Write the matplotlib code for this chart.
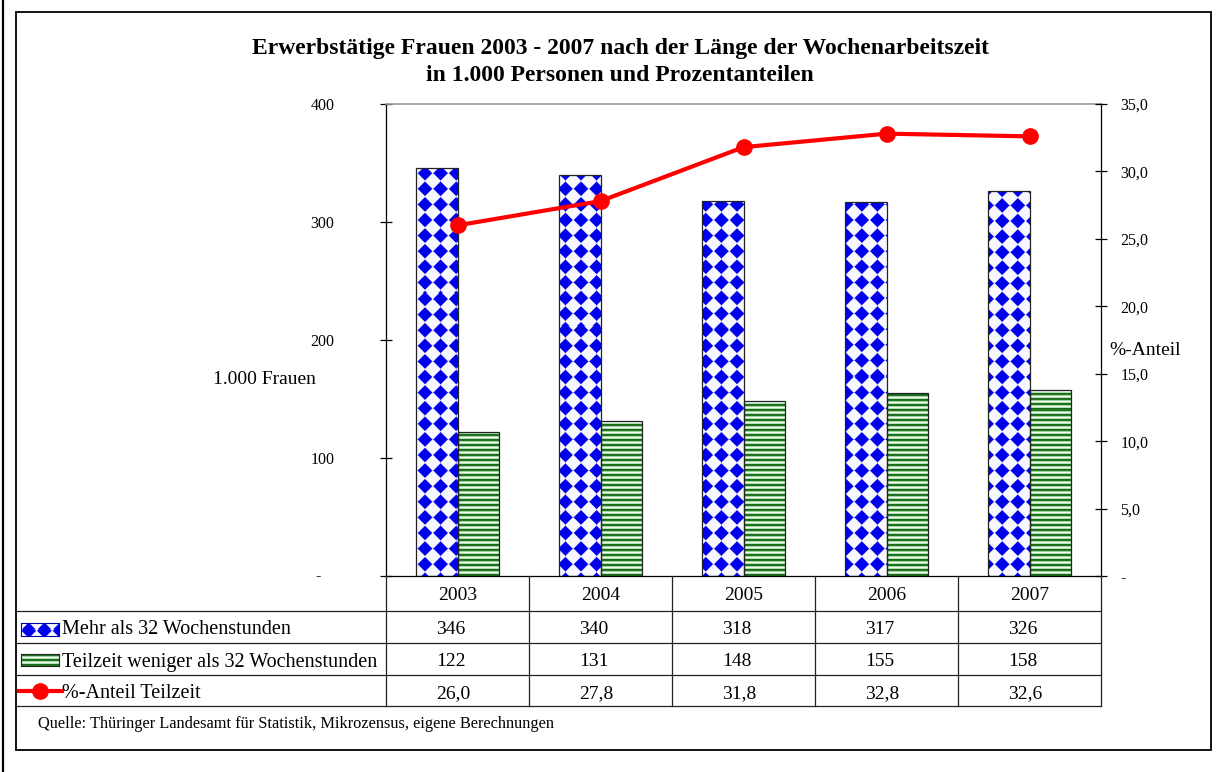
import numpy as np
import matplotlib
matplotlib.use('Agg')
import matplotlib.pyplot as plt
from matplotlib.lines import Line2D
from matplotlib.patches import Rectangle
from matplotlib.transforms import blended_transform_factory

# data
years = ['2003', '2004', '2005', '2006', '2007']
full_time = [346, 340, 318, 317, 326]
part_time = [122, 131, 148, 155, 158]
part_share = [26.0, 27.8, 31.8, 32.8, 32.6]
share_labels = ['26,0', '27,8', '31,8', '32,8', '32,6']
series_names = ['Mehr als 32 Wochenstunden',
                'Teilzeit weniger als 32 Wochenstunden',
                '%-Anteil Teilzeit']
left_ticks = [100, 200, 300, 400]
right_ticks = [0, 5, 10, 15, 20, 25, 30, 35]

W, H, DPI = 1222, 772, 100
plt.rcParams['font.family'] = ['Liberation Serif', 'DejaVu Serif']


def fx(px):
    return px / W


def fy(py):
    return 1 - py / H


def diamonds(h, w, period=15.6):
    yy, xx = np.mgrid[0:h, 0:w] + 0.5
    dx = np.abs((xx % period) - period / 2)
    dy = np.abs((yy % period) - period / 2)
    d = dx + dy - period * 0.47
    a = np.clip(0.5 - d / 1.5, 0, 1)[..., None]
    bg = np.array([0.97, 0.97, 1.0])
    fg = np.array([0.0, 0.0, 0.92])
    return a * fg + (1 - a) * bg


def stripes(h, w):
    rows = np.array([[0.10, 0.42, 0.10], [0.14, 0.46, 0.14],
                     [0.62, 0.84, 0.62], [0.94, 0.99, 0.94],
                     [0.70, 0.88, 0.70]])
    idx = np.arange(h) % len(rows)
    return np.repeat(rows[idx][:, None, :], w, axis=1)


fig = plt.figure(figsize=(W / DPI, H / DPI), dpi=DPI)

# page line and chart frame
fig.add_artist(Line2D([fx(3), fx(3)], [0, 1], color='black', lw=1.6))
fig.add_artist(Rectangle((fx(16), fy(750)), fx(1211) - fx(16), fy(12) - fy(750),
                         fill=False, edgecolor='black', lw=1.3))

# main axes
ax_l, ax_r, ax_t, ax_b = 386, 1101, 104, 576
ax = fig.add_axes([fx(ax_l), fy(ax_b), fx(ax_r - ax_l), fy(ax_t) - fy(ax_b)])
x = np.arange(len(years))
bw = 0.29
b1 = ax.bar(x - bw / 2, full_time, bw, facecolor='none', edgecolor='#222222', lw=0.9, zorder=3)
b2 = ax.bar(x + bw / 2, part_time, bw, facecolor='none', edgecolor='#222222', lw=0.9, zorder=3)

ph, pw = ax_b - ax_t, ax_r - ax_l
for bars, tex in [(b1, diamonds(ph, pw)), (b2, stripes(ph, pw))]:
    for bar in bars:
        im = ax.imshow(tex, extent=(-0.5, len(years) - 0.5, 0, 400), aspect='auto',
                       interpolation='nearest', origin='upper', zorder=2)
        im.set_clip_path(bar)

ax.set_xlim(-0.5, len(years) - 0.5)
ax.set_ylim(0, 400)
ax.set_xticks([])
ax.set_yticks([0] + left_ticks)
ax.set_yticklabels([''] + [str(t) for t in left_ticks])
ax.tick_params(axis='y', direction='inout', length=8, width=0.9, pad=33, labelsize=11.5)
ax.spines['right'].set_visible(False)
ax.spines['top'].set_color('#9a9a9a')
ax.spines['top'].set_linewidth(1.2)
for s in ['left', 'bottom']:
    ax.spines[s].set_linewidth(0.9)
trans = blended_transform_factory(fig.transFigure, ax.transData)
ax.text(fx(321), 0, '-', transform=trans, ha='right', va='center', fontsize=11.5)

ax2 = ax.twinx()
ax2.set_ylim(0, 35)
ax2.plot(x, part_share, color='red', lw=3, marker='o', ms=11, zorder=5)
ax2.set_yticks(right_ticks)
ax2.set_yticklabels(['-'] + ['%d,0' % t for t in right_ticks[1:]])
ax2.tick_params(axis='y', direction='inout', length=8, width=0.9, pad=10, labelsize=11.5)
for s in ['left', 'top', 'bottom']:
    ax2.spines[s].set_visible(False)
ax2.spines['right'].set_linewidth(0.9)

# axis titles and chart title
fig.text(fx(264), fy(379), '1.000 Frauen', fontsize=14, ha='center', va='center')
fig.text(fx(1145), fy(350), '%-Anteil', fontsize=14, ha='center', va='center')
fig.text(fx(620), fy(62), 'Erwerbstätige Frauen 2003 - 2007 nach der Länge der Wochenarbeitszeit\n'
         'in 1.000 Personen und Prozentanteilen', fontsize=17, fontweight='bold',
         ha='center', va='center', linespacing=1.38)

# data table under the chart
rows_y = [576, 611, 643, 675, 706]
col_w = (ax_r - ax_l) / len(years)
col_x = [ax_l + i * col_w for i in range(len(years) + 1)]
for y in rows_y[1:]:
    fig.add_artist(Line2D([fx(16), fx(col_x[-1])], [fy(y), fy(y)], color='#222222', lw=0.9))
for cx in col_x:
    fig.add_artist(Line2D([fx(cx), fx(cx)], [fy(rows_y[0]), fy(rows_y[-1])], color='#222222', lw=0.9))

for i, v in enumerate(years):
    fig.text(fx(col_x[i] + col_w / 2), fy((rows_y[0] + rows_y[1]) / 2 + 2), v,
             fontsize=14, ha='center', va='center')
row_vals = [[str(v) for v in full_time], [str(v) for v in part_time], share_labels]
for r, vals in enumerate(row_vals):
    yc = (rows_y[r + 1] + rows_y[r + 2]) / 2 + 3
    for i, v in enumerate(vals):
        fig.text(fx(col_x[i] + 50), fy(yc), v, fontsize=14, ha='left', va='center')

# legend keys in table
for r, name in enumerate(series_names):
    yc = (rows_y[r + 1] + rows_y[r + 2]) / 2 + 3
    fig.text(fx(62), fy(yc), name, fontsize=14.5, ha='left', va='center')

k1 = fig.add_axes([fx(21), fy(636), fx(38), fy(623) - fy(636)])
k1.imshow(diamonds(13, 38), aspect='auto', interpolation='nearest')
k2 = fig.add_axes([fx(21), fy(666), fx(38), fy(654) - fy(666)])
k2.imshow(stripes(12, 38), aspect='auto', interpolation='nearest')
for k, ec in [(k1, '#0000aa'), (k2, '#222222')]:
    k.set_xticks([])
    k.set_yticks([])
    for s in k.spines.values():
        s.set_color(ec)
        s.set_linewidth(0.8)
yc = (rows_y[3] + rows_y[4]) / 2
fig.add_artist(Line2D([fx(19), fx(62)], [fy(yc), fy(yc)], color='red', lw=3))
fig.add_artist(Line2D([fx(40)], [fy(yc)], color='red', marker='o', ms=11))

fig.text(fx(38), fy(724), 'Quelle: Thüringer Landesamt für Statistik, Mikrozensus, eigene Berechnungen',
         fontsize=11.8, ha='left', va='center')

fig.savefig('out.png', dpi=DPI)
